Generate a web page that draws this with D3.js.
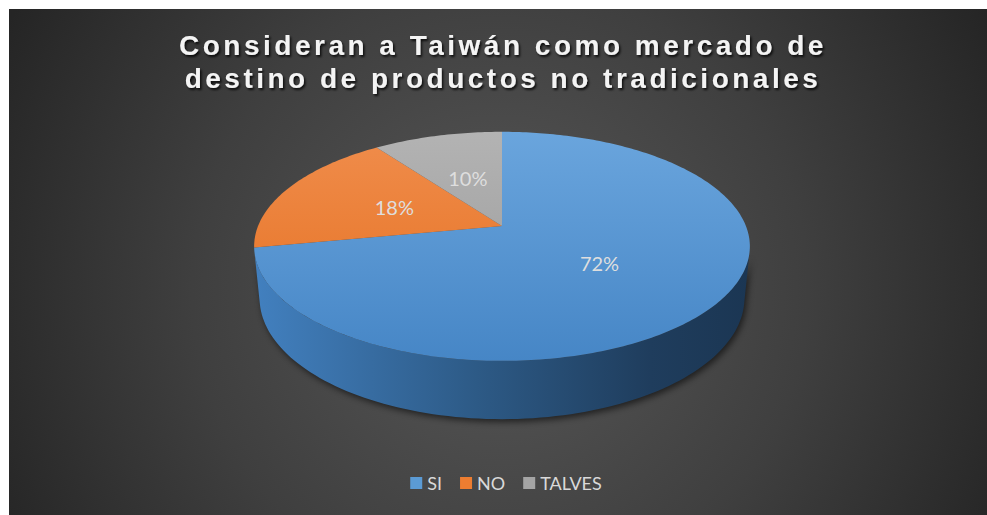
<!DOCTYPE html>
<html>
<head>
<meta charset="utf-8">
<script src="https://cdn.jsdelivr.net/npm/d3@7"></script>
<style>
  html, body { margin: 0; padding: 0; background: #ffffff; }
  svg { display: block; }
</style>
</head>
<body>
<svg id="chart" width="987" height="515"></svg>
<script>
// Survey answers and their shares
const categories = ["SI", "NO", "TALVES"];
const values = [72, 18, 10];
const labels = ["72%", "18%", "10%"];
const titleLines = ["Consideran a Taiwán como mercado de", "destino de productos no tradicionales"];

const colors = {
  SI:     { top: "#6aa5dd", bottom: "#4686c6", legend: "#5b9bd5" },
  NO:     { top: "#f08d4c", bottom: "#e46e1e", legend: "#ed7d31" },
  TALVES: { top: "#b3b3b3", bottom: "#989898", legend: "#a5a5a5" }
};

const W = 987, H = 515;
const svg = d3.select("#chart");
const defs = svg.append("defs");

// Background panel with a soft radial light
const bg = defs.append("radialGradient").attr("id", "bg")
  .attr("gradientUnits", "userSpaceOnUse")
  .attr("cx", 500).attr("cy", 290).attr("r", 560);
bg.append("stop").attr("offset", 0).attr("stop-color", "#585858");
bg.append("stop").attr("offset", 0.55).attr("stop-color", "#3f3f3f");
bg.append("stop").attr("offset", 1).attr("stop-color", "#252525");
svg.append("rect").attr("x", 9).attr("y", 9).attr("width", W - 9).attr("height", H - 9)
  .attr("fill", "url(#bg)");

// Title with drop shadow
const tShadow = defs.append("filter").attr("id", "tshadow")
  .attr("x", "-10%").attr("y", "-30%").attr("width", "120%").attr("height", "160%");
tShadow.append("feDropShadow").attr("dx", 1.5).attr("dy", 2).attr("stdDeviation", 1.3)
  .attr("flood-color", "#000").attr("flood-opacity", 0.8);

svg.append("g").attr("filter", "url(#tshadow)")
  .selectAll("text").data(titleLines).join("text")
  .attr("x", 503)
  .attr("y", (d, i) => 55 + i * 33)
  .attr("text-anchor", "middle")
  .attr("font-family", "'Liberation Sans', Arial, sans-serif")
  .attr("font-weight", "bold")
  .attr("font-size", 28)
  .attr("letter-spacing", 3.5)
  .attr("fill", "#f4f4f4")
  .text(d => d);

// Perspective camera for the 3D pie
const elev = Math.asin(0.4547);
const S = Math.sin(elev), C = Math.cos(elev);
const D = 5.018;          // camera distance (in pie radii)
const K = 1224;           // focal scale in pixels
const thick = 0.24;       // pie thickness (in pie radii)
const cx = 502, cy = 226; // screen position of the pie centre

// a: angle clockwise from the far side (12 o'clock), rho: radius fraction, yh: height
function project(a, rho, yh) {
  const x = rho * Math.sin(a), z = rho * Math.cos(a);
  const depth = D + z * C - yh * S;
  const sy = yh * C + z * S;
  return [cx + K * x / depth, cy - K * sy / depth];
}

const pie = d3.pie().sort(null).value(d => d.value);
const arcs = pie(categories.map((c, i) => ({ cat: c, value: values[i], label: labels[i] })));

// Shadow beneath the pie
const pShadow = defs.append("filter").attr("id", "pshadow")
  .attr("x", "-10%").attr("y", "-10%").attr("width", "120%").attr("height", "130%");
pShadow.append("feGaussianBlur").attr("stdDeviation", 3);

function rimPoints(a0, a1, yh, n) {
  const pts = [];
  for (let i = 0; i <= n; i++) pts.push(project(a0 + (a1 - a0) * i / n, 1, yh));
  return pts;
}
const line = d3.line();

// Silhouette of the cylinder wall: where the view ray grazes the side
const aSil = Math.acos(-1 / (D * C));
const sideStart = aSil, sideEnd = 2 * Math.PI - aSil;

const wallPts = rimPoints(sideStart, sideEnd, 0, 120)
  .concat(rimPoints(sideEnd, sideStart, -thick, 120));

svg.append("path")
  .attr("d", line(wallPts) + "Z")
  .attr("fill", "#000")
  .attr("opacity", 0.55)
  .attr("transform", "translate(2,3)")
  .attr("filter", "url(#pshadow)");

// Side wall: only the slices that face the viewer
const sideGrad = defs.append("linearGradient").attr("id", "side")
  .attr("gradientUnits", "userSpaceOnUse")
  .attr("x1", project(sideEnd, 1, 0)[0]).attr("x2", project(sideStart, 1, 0)[0])
  .attr("y1", 0).attr("y2", 0);
sideGrad.append("stop").attr("offset", 0).attr("stop-color", "#4280bf");
sideGrad.append("stop").attr("offset", 0.45).attr("stop-color", "#2d5a86");
sideGrad.append("stop").attr("offset", 0.8).attr("stop-color", "#1f3d5d");
sideGrad.append("stop").attr("offset", 1).attr("stop-color", "#1b3653");

arcs.forEach(d => {
  const a0 = Math.max(d.startAngle, sideStart);
  const a1 = Math.min(d.endAngle, sideEnd);
  if (a1 <= a0) return;
  const pts = rimPoints(a0, a1, 0, 100).concat(rimPoints(a1, a0, -thick, 100));
  svg.append("path")
    .attr("d", line(pts) + "Z")
    .attr("fill", d.data.cat === "SI" ? "url(#side)" : d3.color(colors[d.data.cat].bottom).darker(1.2));
});

// Top face slices
const topY0 = project(0, 1, 0)[1], topY1 = project(Math.PI, 1, 0)[1];
arcs.forEach((d, i) => {
  const g = defs.append("linearGradient").attr("id", "top" + i)
    .attr("gradientUnits", "userSpaceOnUse")
    .attr("x1", 0).attr("x2", 0).attr("y1", topY0).attr("y2", topY1);
  g.append("stop").attr("offset", 0).attr("stop-color", colors[d.data.cat].top);
  g.append("stop").attr("offset", 1).attr("stop-color", colors[d.data.cat].bottom);
  const n = Math.max(8, Math.ceil((d.endAngle - d.startAngle) * 60));
  const pts = [project(0, 0, 0)].concat(rimPoints(d.startAngle, d.endAngle, 0, n));
  svg.append("path")
    .attr("d", line(pts) + "Z")
    .attr("fill", "url(#top" + i + ")");
});

// Percentage labels placed along each slice's middle angle
svg.append("g").selectAll("text").data(arcs).join("text")
  .each(function(d) {
    const p = project((d.startAngle + d.endAngle) / 2, 0.49, 0);
    d3.select(this).attr("x", p[0]).attr("y", p[1]);
  })
  .attr("text-anchor", "middle")
  .attr("dominant-baseline", "central")
  .attr("font-family", "Lato, 'Open Sans', sans-serif")
  .attr("font-size", 20)
  .attr("fill", "#dedede")
  .text(d => d.data.label);

// Legend
const legend = svg.append("g");
const items = legend.selectAll("g").data(categories).join("g");
items.append("rect")
  .attr("width", 12).attr("height", 12).attr("y", -6)
  .attr("fill", d => colors[d].legend);
items.append("text")
  .attr("x", 17).attr("y", 0)
  .attr("dominant-baseline", "central")
  .attr("font-family", "Lato, 'Open Sans', sans-serif")
  .attr("font-size", 18)
  .attr("fill", "#d9d9d9")
  .text(d => d);
let xo = 0;
items.each(function() {
  d3.select(this).attr("transform", `translate(${xo},0)`);
  xo += 17 + this.querySelector("text").getComputedTextLength() + 18;
});
const legendW = xo - 18;
legend.attr("transform", `translate(${506 - legendW / 2},483)`);
</script>
</body>
</html>
